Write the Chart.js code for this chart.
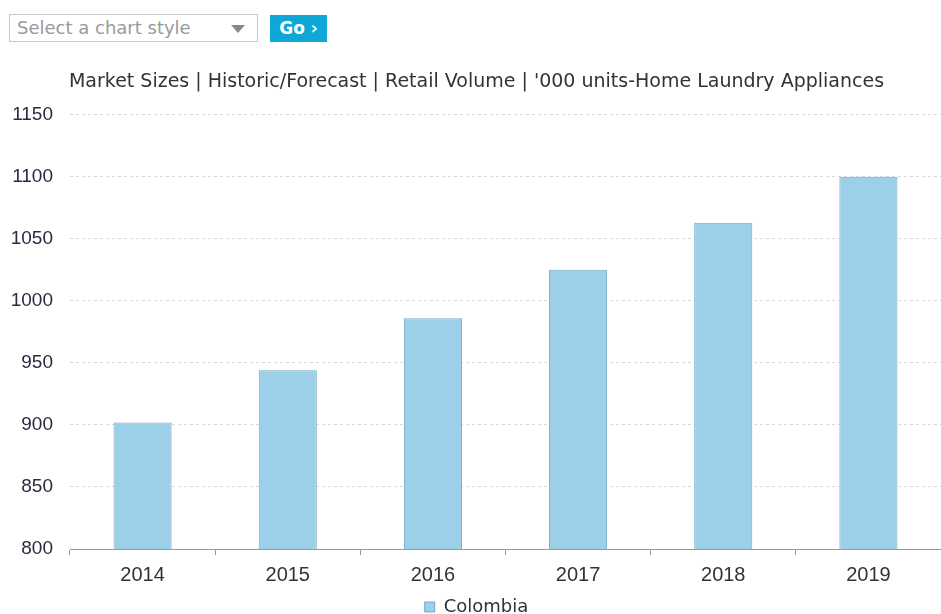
<!DOCTYPE html>
<html>
<head>
<meta charset="utf-8">
<script src="https://cdn.jsdelivr.net/npm/chart.js@4.4.1/dist/chart.umd.min.js"></script>
<style>
	body { margin: 0; background: #fff; width: 941px; height: 614px; overflow: hidden; position: relative; font-family: "DejaVu Sans", Verdana, sans-serif; }
	#style_select { position: absolute; left: 9px; top: 14px; width: 249px; height: 28px; border: 1px solid #c8c8c8; box-sizing: border-box; color: #9a9a9a; font-size: 18px; line-height: 26px; padding-left: 7px; }
	#style_select .arrow { position: absolute; right: 12px; top: 10px; width: 0; height: 0; border-left: 7px solid transparent; border-right: 7px solid transparent; border-top: 8px solid #888; }
	#go_btn { position: absolute; left: 270px; top: 15px; width: 57px; height: 27px; background: #0fa8d6; color: #fff; font-weight: bold; font-size: 17px; line-height: 27px; text-align: center; }
	#chart_box { position: absolute; left: 0; top: 55px; width: 941px; height: 571px; }
</style>
</head>
<body>
<div id="style_select">Select a chart style<div class="arrow"></div></div>
<div id="go_btn">Go ›</div>
<div id="chart_box"><canvas id="chart-area"></canvas></div>
<script>
	//chart data
	var years = ["2014", "2015", "2016", "2017", "2018", "2019"];
	var colombia = [902, 944, 986, 1025, 1063, 1100];
	var yTicks = [800, 850, 900, 950, 1000, 1050, 1100, 1150];
	var chartTitle = "Market Sizes | Historic/Forecast | Retail Volume | '000 units-Home Laundry Appliances";

	init();

	function init () {
		barChart();
	}

	function barChart () {
		var config = {
			type: 'bar',
			data: {
				labels: years,
				datasets: [{
					label: "Colombia",
					data: colombia,
					backgroundColor: "#9ccfe8",
					borderColor: "#74a9c4",
					borderWidth: 1,
					barPercentage: 0.4,
					categoryPercentage: 1.0
				}]
			},
			options: {
				responsive: false,
				animation: false,
				layout: { padding: { left: 12, right: 0, top: 0, bottom: 0 } },
				plugins: {
					title: {
						display: true,
						text: chartTitle,
						color: "#333",
						font: { family: "DejaVu Sans", size: 19, weight: 'normal' },
						padding: { top: 16, bottom: 21 }
					},
					legend: {
						position: 'bottom',
						labels: {
							color: "#333",
							font: { family: "DejaVu Sans", size: 18 },
							boxWidth: 10,
							boxHeight: 10,
							padding: 0
						}
					},
					tooltip: { enabled: false }
				},
				scales: {
					x: {
						offset: true,
						afterFit: function (scale) { scale.height = 49; },
						grid: { display: true, drawOnChartArea: false, drawTicks: true, tickLength: 6, color: "#999", offset: true },
						border: { display: true, color: "#999" },
						ticks: { color: "#333", font: { family: "Liberation Sans", size: 20 }, padding: 8 }
					},
					y: {
						min: 800,
						max: 1150,
						afterBuildTicks: function (scale) {
							scale.ticks = yTicks.map(function (v) { return { value: v }; });
						},
						afterFit: function (scale) { scale.width = 58; },
						grid: { color: "#d8d8d8", drawTicks: false },
						border: { display: false, dash: [3, 3] },
						ticks: {
							color: "#2a2a40",
							font: { family: "Liberation Sans", size: 19 },
							padding: 17,
							callback: function (value) { return String(value); }
						}
					}
				}
			}
		};

		var canvas = document.getElementById("chart-area");
		canvas.width = 941;
		canvas.height = 571;
		var ctx = canvas.getContext("2d");
		window.myBar = new Chart(ctx, config);
	}
</script>
</body>
</html>
